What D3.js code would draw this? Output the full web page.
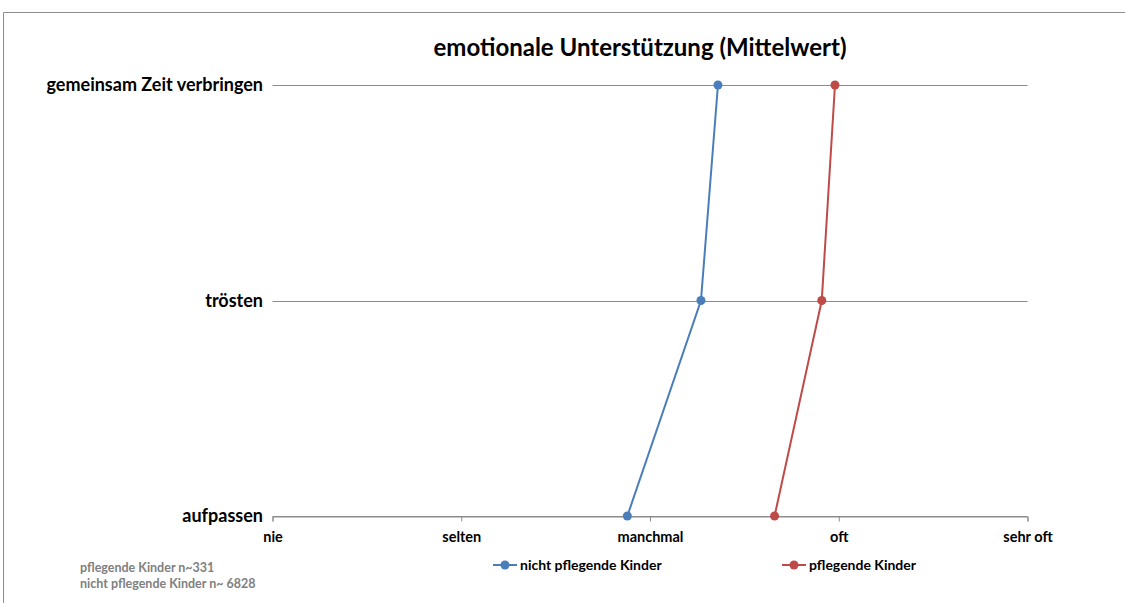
<!DOCTYPE html>
<html>
<head>
<meta charset="utf-8">
<script src="https://cdn.jsdelivr.net/npm/d3@7"></script>
<style>
  body { margin: 0; background: #fff; }
  text { font-family: Lato, "Open Sans", sans-serif; font-weight: bold; }
</style>
</head>
<body>
<div id="chart"></div>
<script>
// categories (top to bottom) and answer scale
var items = ["gemeinsam Zeit verbringen", "trösten", "aufpassen"];
var scaleLabels = ["nie", "selten", "manchmal", "oft", "sehr oft"];
// mean values, 1 = nie ... 5 = sehr oft
var nichtPflegend = [3.36, 3.27, 2.88];
var pflegend = [3.98, 3.91, 3.66];
var seriesNames = ["nicht pflegende Kinder", "pflegende Kinder"];
var notes = ["pflegende Kinder n~331", "nicht pflegende Kinder n~ 6828"];

var width = 1125, height = 603;
var svg = d3.select("#chart").append("svg")
  .attr("width", width).attr("height", height);

// outer chart frame (only top and left visible)
svg.append("path")
  .attr("d", "M3.5,603V12.5H1125")
  .attr("fill", "none")
  .attr("stroke", "#8c8c8c")
  .attr("stroke-width", 1);

var x = d3.scaleLinear().domain([1, 5]).range([272.5, 1027.5]);
var y = d3.scalePoint().domain(items).range([85, 516]);

svg.append("text")
  .attr("x", 640).attr("y", 56)
  .attr("text-anchor", "middle")
  .style("font-size", "24px")
  .text("emotionale Unterstützung (Mittelwert)");

// horizontal grid lines, one per item
svg.append("g").selectAll("line").data(items).enter().append("line")
  .attr("x1", x(1)).attr("x2", x(5))
  .attr("y1", d => Math.round(y(d)) + 0.5).attr("y2", d => Math.round(y(d)) + 0.5)
  .attr("stroke", "#8c8c8c");

// y labels
svg.append("g").selectAll("text").data(items).enter().append("text")
  .attr("x", 263).attr("y", d => y(d) + 6)
  .attr("text-anchor", "end")
  .style("font-size", "18px")
  .text(d => d);

// x axis
var xAxis = d3.axisBottom(x)
  .tickValues([1, 2, 3, 4, 5])
  .tickFormat((d, i) => scaleLabels[i])
  .tickSize(5).tickPadding(10);
var gx = svg.append("g")
  .attr("transform", "translate(0," + (Math.round(y("aufpassen")) + 0.5) + ")")
  .call(xAxis);
gx.select(".domain").attr("stroke", "#8c8c8c");
gx.selectAll(".tick line").attr("stroke", "#8c8c8c");
gx.selectAll(".tick text")
  .style("font-size", "14.5px")
  .style("font-family", "Lato, sans-serif")
  .attr("fill", "#000");

var series = [
  {name: seriesNames[0], values: nichtPflegend, color: "#4a7ebb"},
  {name: seriesNames[1], values: pflegend, color: "#be4b48"}
];

var line = d3.line().x(d => x(d.v)).y(d => y(d.item));

series.forEach(function(s) {
  var pts = items.map((item, i) => ({item: item, v: s.values[i]}));
  svg.append("path")
    .datum(pts)
    .attr("d", line)
    .attr("fill", "none")
    .attr("stroke", s.color)
    .attr("stroke-width", 2);
  svg.append("g").selectAll("circle").data(pts).enter().append("circle")
    .attr("cx", d => x(d.v)).attr("cy", d => y(d.item))
    .attr("r", 4.5)
    .attr("fill", s.color);
});

// legend
var legendX = [493, 782];
series.forEach(function(s, i) {
  var g = svg.append("g").attr("transform", "translate(" + legendX[i] + ",565)");
  g.append("line").attr("x1", 0).attr("x2", 24).attr("y1", 0).attr("y2", 0)
    .attr("stroke", s.color).attr("stroke-width", 2);
  g.append("circle").attr("cx", 12).attr("cy", 0).attr("r", 4.5).attr("fill", s.color);
  g.append("text").attr("x", 27).attr("y", 5)
    .style("font-size", "14px")
    .text(s.name);
});

// sample size notes
svg.append("g").selectAll("text").data(notes).enter().append("text")
  .attr("x", 80).attr("y", (d, i) => 572 + i * 16)
  .attr("fill", "#808080")
  .style("font-size", "12.5px")
  .text(d => d);
</script>
</body>
</html>
